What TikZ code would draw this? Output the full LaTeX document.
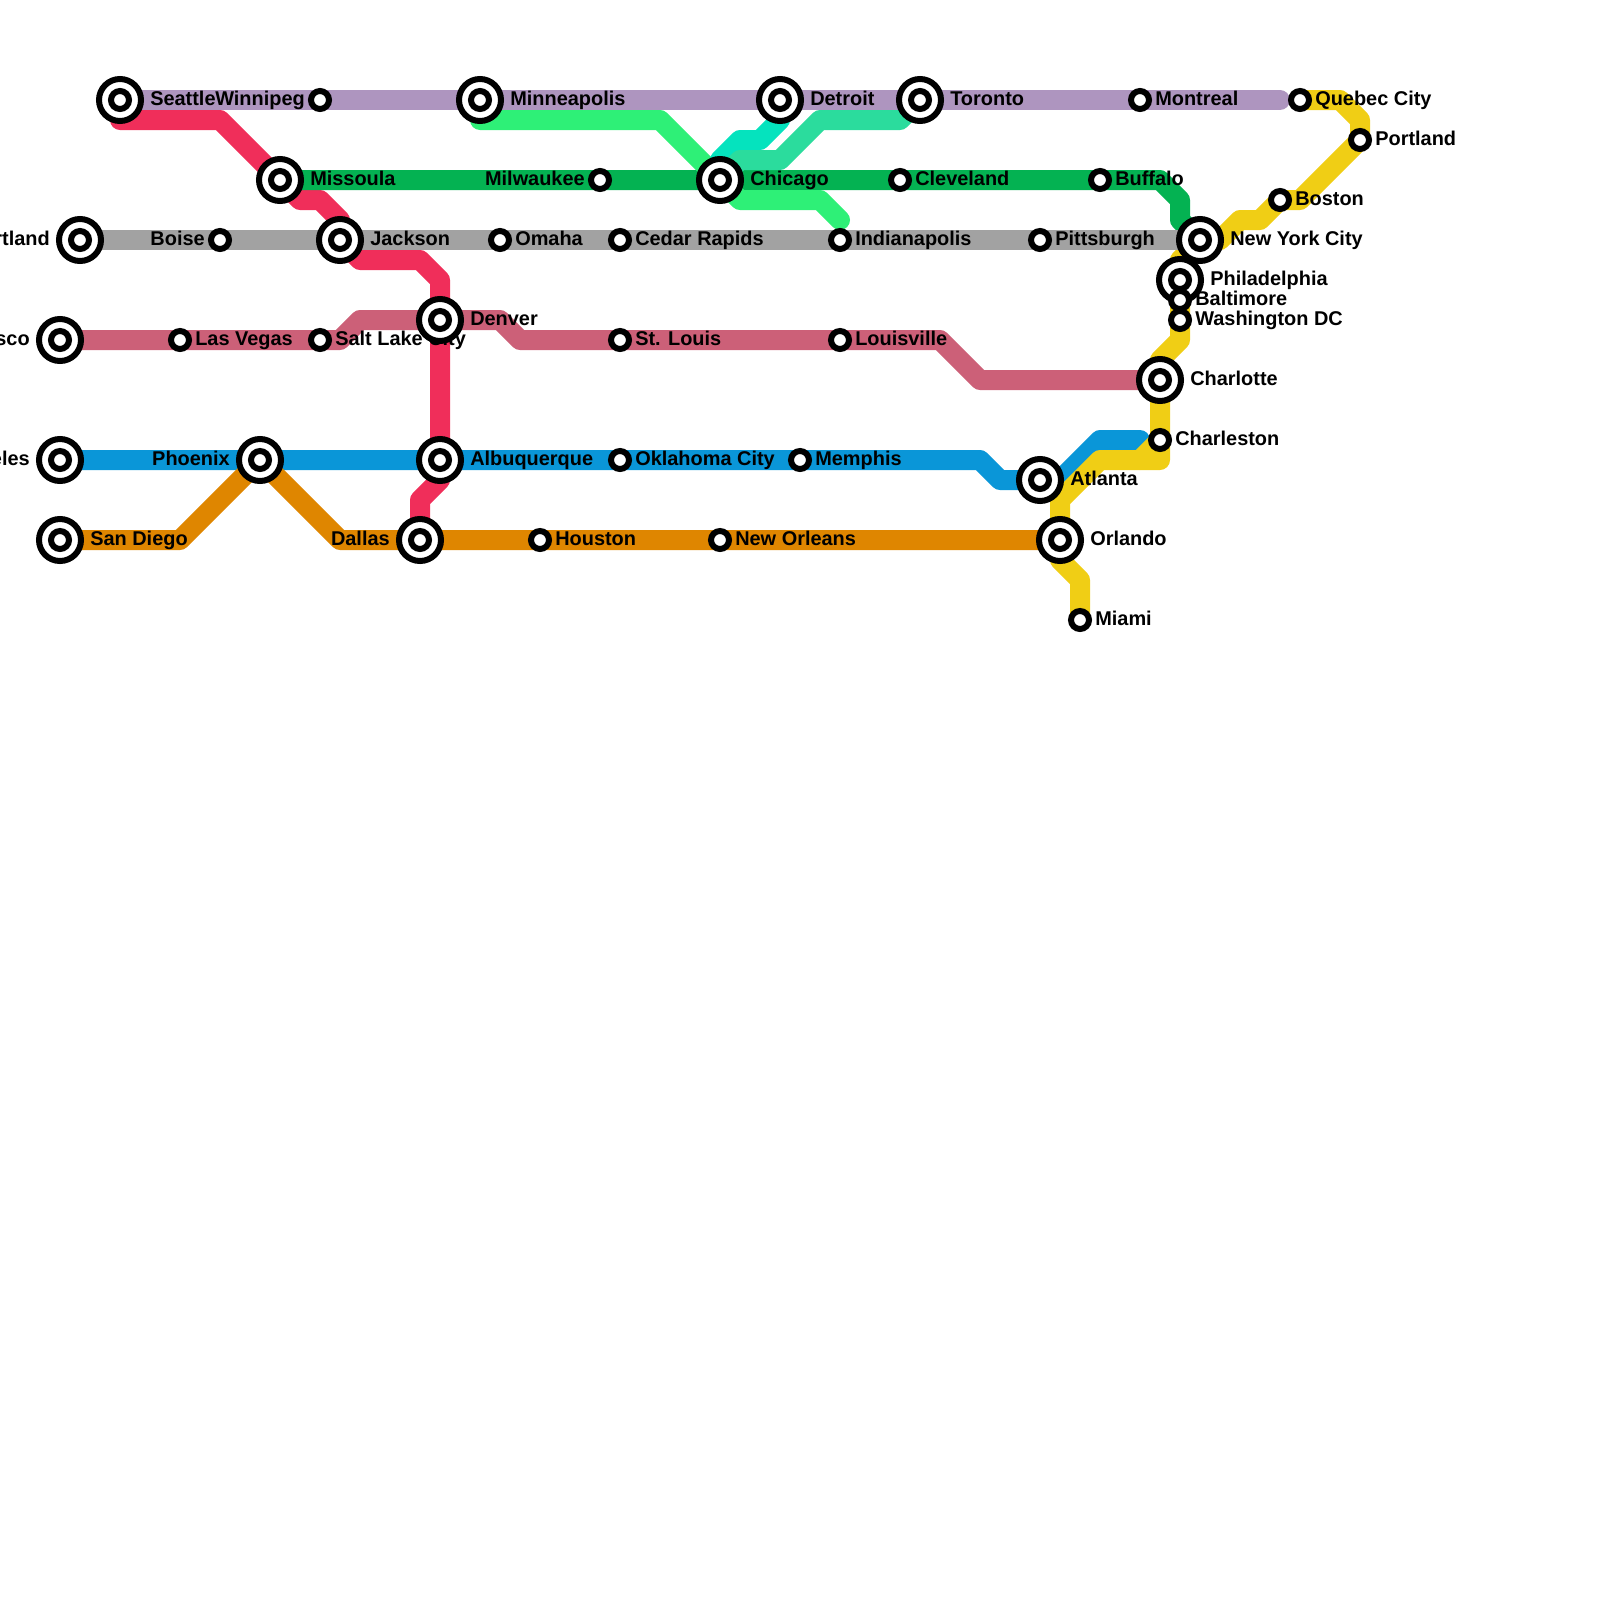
\documentclass[tikz,border=0pt]{standalone}
\usepackage{fontspec}
\setmainfont{Liberation Sans}
\usepackage{xcolor}
\usetikzlibrary{calc}
\definecolor{lnPurple}{HTML}{AE95BF}
\definecolor{lnRed}{HTML}{F02E5A}
\definecolor{lnGreen}{HTML}{04B252}
\definecolor{lnGrey}{HTML}{A2A2A2}
\definecolor{lnRose}{HTML}{CC6078}
\definecolor{lnBlue}{HTML}{0A96D8}
\definecolor{lnOrange}{HTML}{DF8600}
\definecolor{lnYellow}{HTML}{F0CE15}
\definecolor{lnSpring}{HTML}{2EF077}
\definecolor{lnTeal}{HTML}{05E3BE}
\definecolor{lnAqua}{HTML}{2BDC9D}
\pgfdeclarelayer{lines}
\pgfdeclarelayer{names}
\pgfsetlayers{lines,names,main}
\begin{document}
\begin{tikzpicture}[x=0.5cm, y=-0.5cm,
metro/.style={line width=5mm, line cap=round, line join=round},
hub/.style={circle, draw=black, fill=white, line width=1.5mm, minimum size=10.5mm, inner sep=0pt},
hubdot/.style={circle, draw=black, fill=white, line width=1.5mm, minimum size=4.5mm, inner sep=0pt},
stop/.style={circle, draw=black, fill=white, line width=1.5mm, minimum size=4.5mm, inner sep=0pt},
cityname/.style={font=\bfseries\fontsize{14.17}{17}\selectfont, inner sep=0pt}]
\useasboundingbox (0,0) rectangle (80,80);
% interchanges: id, x, y, anchor, side, text
\foreach \id/\x/\y/\a/\d/\txt in {seattle/6/5/west/1/Seattle,minneapolis/24/5/west/1/Minneapolis,detroit/39/5/west/1/Detroit,toronto/46/5/west/1/Toronto,missoula/14/9/west/1/Missoula,chicago/36/9/west/1/Chicago,pdx/4/12/east/-1/Portland,jackson/17/12/west/1/Jackson,philadelphia/59/14/west/1/Philadelphia,nyc/60/12/west/1/New York City,sanfrancisco/3/17/east/-1/San Francisco,denver/22/16/west/1/Denver,charlotte/58/19/west/1/Charlotte,losangeles/3/23/east/-1/Los Angeles,phoenix/13/23/east/-1/Phoenix,albuquerque/22/23/west/1/Albuquerque,atlanta/52/24/west/1/Atlanta,sandiego/3/27/west/1/San Diego,dallas/21/27/east/-1/Dallas,orlando/53/27/west/1/Orlando}
{\node[hub] (\id) at (\x,\y) {};
\node[hubdot] (\id-dot) at (\id) {};
\begin{pgfonlayer}{names}
\node[cityname, anchor=base \a] (\id-name) at ([xshift=\d*7.5mm,yshift=-1.25mm]\id) {\txt};
\end{pgfonlayer}}
% plain stops
\foreach \id/\x/\y/\a/\d/\txt in {winnipeg/16/5/east/-1/Winnipeg,montreal/57/5/west/1/Montreal,quebec/65/5/west/1/Quebec City,pwm/68/7/west/1/Portland,boston/64/10/west/1/Boston,milwaukee/30/9/east/-1/Milwaukee,cleveland/45/9/west/1/Cleveland,buffalo/55/9/west/1/Buffalo,boise/11/12/east/-1/Boise,omaha/25/12/west/1/Omaha,cedarrapids/31/12/west/1/Cedar Rapids,indianapolis/42/12/west/1/Indianapolis,pittsburgh/52/12/west/1/Pittsburgh,baltimore/59/15/west/1/Baltimore,washington/59/16/west/1/Washington DC,lasvegas/9/17/west/1/Las Vegas,saltlake/16/17/west/1/Salt Lake City,stlouis/31/17/west/1/St. Louis,louisville/42/17/west/1/Louisville,charleston/58/22/west/1/Charleston,oklahoma/31/23/west/1/Oklahoma City,memphis/40/23/west/1/Memphis,houston/27/27/west/1/Houston,neworleans/36/27/west/1/New Orleans,miami/54/31/west/1/Miami}
{\node[stop] (\id) at (\x,\y) {};
\begin{pgfonlayer}{names}
\node[cityname, anchor=base \a] (\id-name) at ([xshift=\d*3.75mm,yshift=-1.25mm]\id) {\txt};
\end{pgfonlayer}}
% bends
\foreach \n/\x/\y in {red1/6/6,red2/11/6,red3/15/10,red4/16/10,red5/17/11,red6/18/13,red7/21/13,red8/22/14,red9/22/24,red10/21/25,
grn1/58/9,grn2/59/10,grn3/59/11,
spr1/24/6,spr2/33/6,spr3/37/10,spr4/41/10,spr5/42/11,
tea1/39/6,tea2/38/7,tea3/37/7,tea4/36/8,
aqu1/45/6,aqu2/41/6,aqu3/39/8,aqu4/37/8,
ros1/17/17,ros2/18/16,ros3/25/16,ros4/26/17,ros5/47/17,ros6/49/19,
blu1/49/23,blu2/50/24,blu3/53/24,blu4/55/22,blu5/57/22,
org1/9/27,org2/17/27,
yel1/67/5,yel2/68/6,yel3/65/10,yel4/63/11,yel5/62/11,yel6/61/12,yel7/59/13,yel8/59/17,yel9/58/18,yel10/58/23,yel11/55/23,yel12/53/25,yel13/53/28,yel14/54/29,yel15/57/23,
pur1/64/5}
{\coordinate (\n) at (\x,\y);}
\begin{pgfonlayer}{lines}
\draw[metro, lnBlue] (losangeles.center) -- (blu1) -- (blu2) -- (blu3) -- (blu4) -- (blu5);
\draw[metro, lnYellow] (quebec.center) -- (yel1) -- (yel2) -- (pwm.center) -- (yel3) -- (boston.center) -- (yel4) -- (yel5) -- (yel6) -- (nyc.center) -- (yel7) -- (philadelphia.center) -- (washington.center) -- (yel8) -- (yel9) -- (charlotte.center) -- (yel10) -- (yel11) -- (yel12) -- (orlando.center) -- (yel13) -- (yel14) -- (miami.center);
\draw[metro, lnYellow] (charleston.center) -- (yel15);
\draw[metro, lnOrange] (sandiego.center) -- (org1) -- (phoenix.center) -- (org2) -- (orlando.center);
\draw[metro, lnRose] (sanfrancisco.center) -- (ros1) -- (ros2) -- (ros3) -- (ros4) -- (ros5) -- (ros6) -- (charlotte.center);
\draw[metro, lnRed] (seattle.center) -- (red1) -- (red2) -- (missoula.center) -- (red3) -- (red4) -- (red5) -- (jackson.center) -- (red6) -- (red7) -- (red8) -- (albuquerque.center) -- (red9) -- (red10) -- (dallas.center);
\draw[metro, lnGreen] (missoula.center) -- (grn1) -- (grn2) -- (grn3) -- (nyc.center);
\draw[metro, lnSpring] (minneapolis.center) -- (spr1) -- (spr2) -- (chicago.center) -- (spr3) -- (spr4) -- (spr5);
\draw[metro, lnTeal] (detroit.center) -- (tea1) -- (tea2) -- (tea3) -- (tea4) -- (chicago.center);
\draw[metro, lnAqua] (toronto.center) -- (aqu1) -- (aqu2) -- (aqu3) -- (aqu4) -- (chicago.center);
\draw[metro, lnGrey] (pdx.center) -- (nyc.center);
\draw[metro, lnPurple] (seattle.center) -- (pur1);
\end{pgfonlayer}
\end{tikzpicture}
\end{document}
